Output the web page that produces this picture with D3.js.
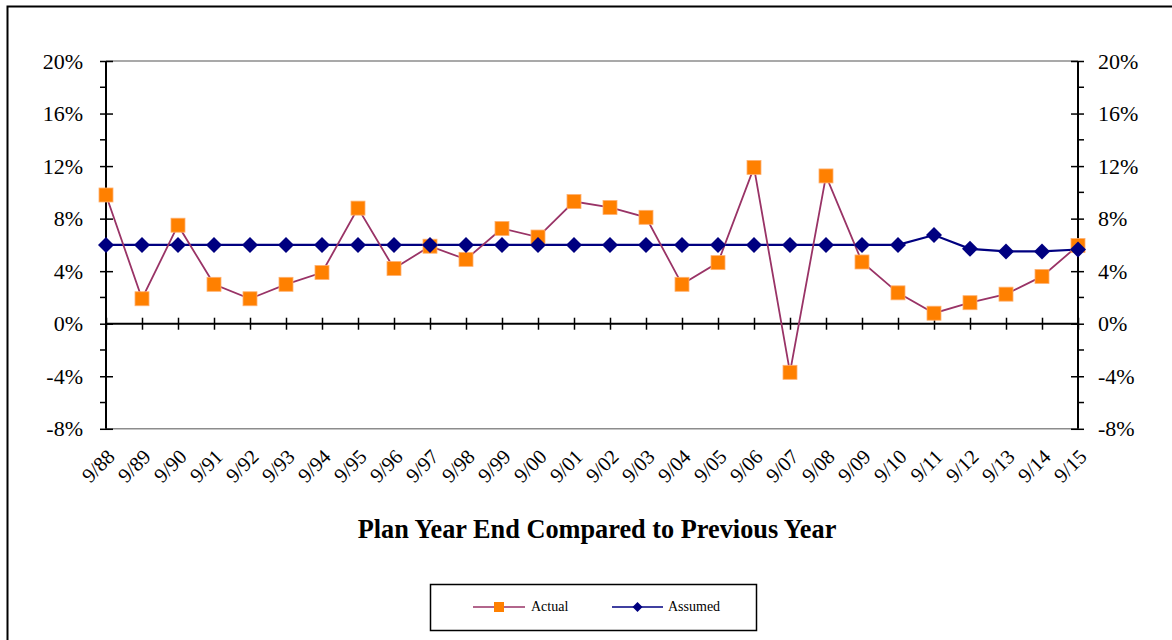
<!DOCTYPE html>
<html><head><meta charset="utf-8">
<script src="https://cdn.jsdelivr.net/npm/d3@7"></script>
<style>body{margin:0;background:#fff}svg{display:block}</style>
</head><body>
<svg id="c" width="1172" height="640"></svg>
<script>
const categories = ["9/88","9/89","9/90","9/91","9/92","9/93","9/94","9/95","9/96","9/97","9/98","9/99","9/00","9/01","9/02","9/03","9/04","9/05","9/06","9/07","9/08","9/09","9/10","9/11","9/12","9/13","9/14","9/15"];
const actual = [9.8,1.9,7.5,3.0,1.9,3.0,3.9,8.8,4.2,5.9,4.9,7.25,6.6,9.3,8.85,8.1,3.0,4.65,11.9,-3.7,11.25,4.7,2.35,0.8,1.6,2.25,3.6,5.95];
const assumed = [6,6,6,6,6,6,6,6,6,6,6,6,6,6,6,6,6,6,6,6,6,6,6,6.75,5.7,5.5,5.5,5.65];
const yTicks = [-8,-4,0,4,8,12,16,20];
const yMinorTicks = [-6,-2,2,6,10,14,18];
const title = "Plan Year End Compared to Previous Year";
const seriesNames = ["Actual","Assumed"];

const svg = d3.select("#c");
const serif = "'Liberation Serif','Times New Roman',serif";
const L = 106, R = 1078, T = 61, B = 428.8;
const x = d3.scalePoint().domain(categories).range([L, R]);
const y = d3.scaleLinear().domain([-8, 20]).range([B, T]);

// outer border
svg.append("rect").attr("x",7.5).attr("y",6.5).attr("width",1180).attr("height",700)
  .attr("fill","none").attr("stroke","#000").attr("stroke-width",2);

// plot area top/bottom gray
svg.append("line").attr("x1",L).attr("x2",R).attr("y1",y(20)).attr("y2",y(20)).attr("stroke","#8c8c8c").attr("stroke-width",1.5);
svg.append("line").attr("x1",L).attr("x2",R).attr("y1",y(-8)).attr("y2",y(-8)).attr("stroke","#8c8c8c").attr("stroke-width",1.5);

function styleAxis(g){
  g.select(".domain").remove();
  g.selectAll(".tick line").attr("stroke","#000").attr("stroke-width",1.5);
  g.selectAll("text").attr("font-family",serif).attr("font-size",22).attr("fill","#000");
}
// left axis
const gl = svg.append("g").attr("transform",`translate(${L},0)`)
  .call(d3.axisLeft(y).tickValues(yTicks).tickFormat(d=>d+"%").tickSize(6).tickPadding(17));
styleAxis(gl);
gl.selectAll(".tick line").attr("x1",7);
gl.append("g").selectAll("line").data(yMinorTicks).join("line")
  .attr("x1",-6).attr("x2",0).attr("y1",d=>y(d)).attr("y2",d=>y(d)).attr("stroke","#000").attr("stroke-width",1.5);
gl.append("line").attr("x1",0).attr("x2",0).attr("y1",T).attr("y2",B).attr("stroke","#000").attr("stroke-width",2);

// right axis
const gr = svg.append("g").attr("transform",`translate(${R},0)`)
  .call(d3.axisRight(y).tickValues(yTicks).tickFormat(d=>d+"%").tickSize(6).tickPadding(14));
styleAxis(gr);
gr.selectAll(".tick line").attr("x1",-7);
gr.append("g").selectAll("line").data(yMinorTicks).join("line")
  .attr("x1",0).attr("x2",6).attr("y1",d=>y(d)).attr("y2",d=>y(d)).attr("stroke","#000").attr("stroke-width",1.5);
gr.append("line").attr("x1",0).attr("x2",0).attr("y1",T).attr("y2",B).attr("stroke","#000").attr("stroke-width",2);

// x axis at 0
const gx = svg.append("g").attr("transform",`translate(0,${y(0)})`)
  .call(d3.axisBottom(x).tickSize(6).tickFormat(""));
gx.select(".domain").remove();
gx.selectAll(".tick line").attr("y1",-6).attr("stroke","#000").attr("stroke-width",1.5);
gx.append("line").attr("x1",L).attr("x2",R).attr("y1",0).attr("y2",0).attr("stroke","#000").attr("stroke-width",2);

// x labels rotated
svg.append("g").selectAll("text").data(categories).join("text")
  .attr("transform",d=>`translate(${x(d)+5},${453}) rotate(-45)`)
  .attr("text-anchor","end").attr("dy","0.35em")
  .attr("font-family",serif).attr("font-size",20.5).attr("fill","#000")
  .text(d=>d);

// lines
const lineGen = d3.line().x((d,i)=>x(categories[i])).y(d=>y(d));
svg.append("path").datum(assumed).attr("d",lineGen).attr("fill","none").attr("stroke","#000080").attr("stroke-width",2.2);
svg.append("path").datum(actual).attr("d",lineGen).attr("fill","none").attr("stroke","#993366").attr("stroke-width",1.8);

// markers
const sq = 14, dm = 8;
svg.append("g").selectAll("rect").data(actual).join("rect")
  .attr("x",(d,i)=>x(categories[i])-sq/2).attr("y",d=>y(d)-sq/2)
  .attr("width",sq).attr("height",sq).attr("fill","#FF8000").attr("stroke","#ffb070").attr("stroke-width",0.8);
svg.append("g").selectAll("path").data(assumed).join("path")
  .attr("d",(d,i)=>{const cx=x(categories[i]), cy=y(d); return `M${cx},${cy-dm}L${cx+dm},${cy}L${cx},${cy+dm}L${cx-dm},${cy}Z`;})
  .attr("fill","#000080");

// title
svg.append("text").attr("x",597).attr("y",538).attr("text-anchor","middle")
  .attr("font-family",serif).attr("font-weight","bold").attr("font-size",26.3).attr("fill","#000")
  .text(title);

// legend
const lg = svg.append("g");
lg.append("rect").attr("x",430.5).attr("y",584.5).attr("width",326).attr("height",46)
  .attr("fill","#fff").attr("stroke","#000").attr("stroke-width",1.5);
lg.append("line").attr("x1",473).attr("x2",525).attr("y1",607).attr("y2",607).attr("stroke","#993366").attr("stroke-width",1.5);
lg.append("rect").attr("x",494).attr("y",602).attr("width",10).attr("height",10).attr("fill","#FF8000");
lg.append("text").attr("x",531).attr("y",611).attr("font-family",serif).attr("font-size",14).text(seriesNames[0]);
lg.append("line").attr("x1",612).attr("x2",663).attr("y1",607).attr("y2",607).attr("stroke","#000080").attr("stroke-width",1.5);
lg.append("path").attr("d","M637.5,602L642.5,607L637.5,612L632.5,607Z").attr("fill","#000080");
lg.append("text").attr("x",668).attr("y",611).attr("font-family",serif).attr("font-size",14).text(seriesNames[1]);
</script>
</body></html>
